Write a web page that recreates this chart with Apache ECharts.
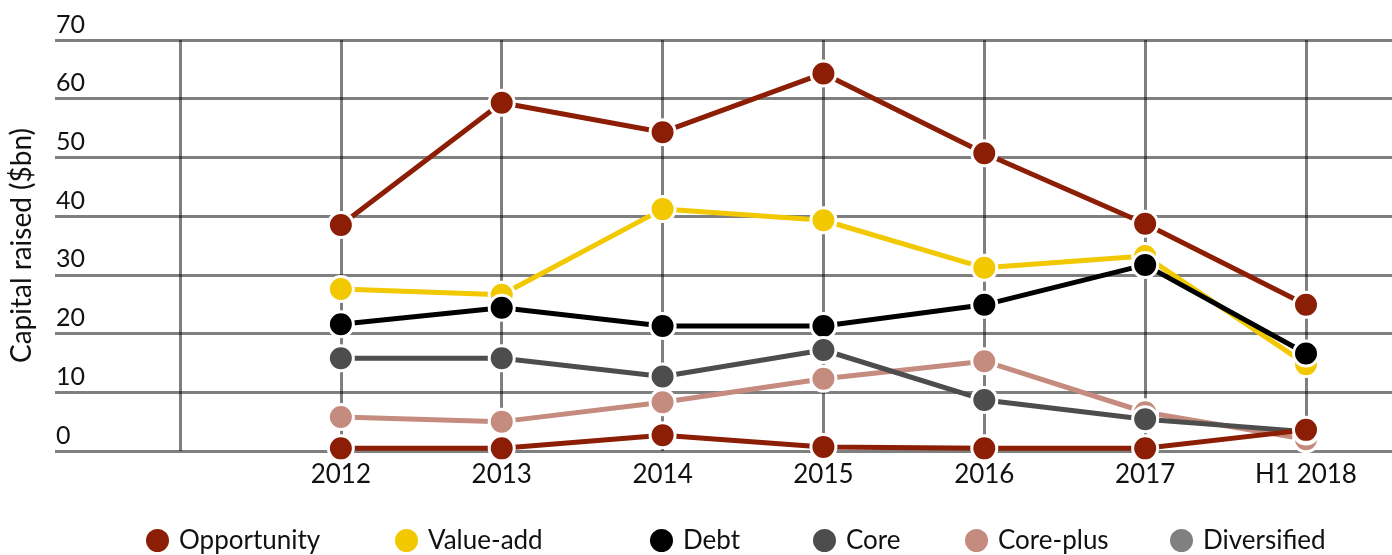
<!DOCTYPE html>
<html>
<head>
<meta charset="utf-8">
<script src="https://cdn.jsdelivr.net/npm/echarts@6/dist/echarts.min.js"></script>
<style>
  html, body { margin: 0; padding: 0; background: #fff; }
  #chart { width: 1392px; height: 555px; }
</style>
</head>
<body>
<div id="chart"></div>
<script>
// first slot is an empty column (the extra grid line left of 2012)
const categories = ['', '2012', '2013', '2014', '2015', '2016', '2017', 'H1 2018'];
const seriesNames = ['Opportunity', 'Value-add', 'Debt', 'Core', 'Core-plus', 'Diversified'];
const opportunity = [null, 38.5, 59.3, 54.3, 64.3, 50.7, 38.7, 24.9];
const valueAdd    = [null, 27.6, 26.6, 41.2, 39.3, 31.2, 33.2, 14.8];
const debt        = [null, 21.6, 24.4, 21.3, 21.3, 24.9, 31.7, 16.6];
const core        = [null, 15.8, 15.8, 12.7, 17.2, 8.7, 5.4, 3.3];
const corePlus    = [null, 5.8, 5.0, 8.3, 12.3, 15.3, 6.6, 2.0];
const diversified = [null, 0.45, 0.45, 2.7, 0.7, 0.45, 0.45, 3.6];

function initChart() {
    const dom = document.getElementById('chart');
    const chart = echarts.init(dom);
    const font = 'Lato';
    const gridLine = { lineStyle: { color: 'rgba(0,0,0,0.5)', width: 3 } };
    // line colours; the bottom line is drawn in the opportunity red, legend shows grey
    const lineColors = ['#8b1e05', '#f2c900', '#000000', '#4d4d4d', '#c48b7e', '#8b1e05'];
    const legendColors = ['#8b1e05', '#f2c900', '#000000', '#4d4d4d', '#c48b7e', '#808080'];
    const legendLeft = [139, 388, 643, 806, 958, 1163];
    const zs = [2, 3, 4, 6, 5, 7];
    const values = [opportunity, valueAdd, debt, core, corePlus, diversified];

    chart.setOption({
        animation: false,
        textStyle: { fontFamily: font, color: '#111' },
        grid: [
            { left: 54, right: 0, top: 40, bottom: 104 },
            { left: 180, right: 86, top: 40, bottom: 104 }
        ],
        xAxis: [
            { type: 'value', gridIndex: 0, show: false, min: 0, max: 1 },
            {
                type: 'category', gridIndex: 1, data: categories, boundaryGap: false,
                axisLine: { show: false }, axisTick: { show: false },
                axisLabel: { fontSize: 26, color: '#111', margin: 11, fontFamily: font },
                splitLine: Object.assign({ show: true, interval: 0 }, gridLine)
            }
        ],
        yAxis: [
            {
                type: 'value', gridIndex: 0, min: 0, max: 70, interval: 10,
                name: 'Capital raised ($bn)', nameLocation: 'middle', nameGap: 19,
                nameTextStyle: { fontSize: 28, color: '#111', fontFamily: font },
                axisLine: { show: false }, axisTick: { show: false },
                axisLabel: { inside: true, margin: 1, fontSize: 25, color: '#111',
                             verticalAlign: 'bottom', padding: [0, 0, 3, 0], fontFamily: font },
                splitLine: Object.assign({ show: true }, gridLine)
            },
            { type: 'value', gridIndex: 1, min: 0, max: 70, show: false, splitLine: { show: false } }
        ],
        legend: seriesNames.map((n, i) => ({
            data: [{ name: n, itemStyle: { color: legendColors[i] } }],
            left: legendLeft[i], top: 522, icon: 'circle',
            itemWidth: 25, itemHeight: 25, itemGap: 0,
            textStyle: { fontSize: 26, color: '#111', fontFamily: font, padding: [0, 0, 0, 4] }
        })),
        series: seriesNames.map((n, i) => ({
            name: n, type: 'line', xAxisIndex: 1, yAxisIndex: 1,
            data: values[i], z: zs[i],
            symbol: 'circle', symbolSize: 25,
            lineStyle: { color: lineColors[i], width: 5 },
            itemStyle: { color: lineColors[i], borderColor: '#fff', borderWidth: 3 }
        }))
    });
    window.addEventListener('resize', () => chart.resize());
}

document.addEventListener('DOMContentLoaded', initChart);
</script>
</body>
</html>
